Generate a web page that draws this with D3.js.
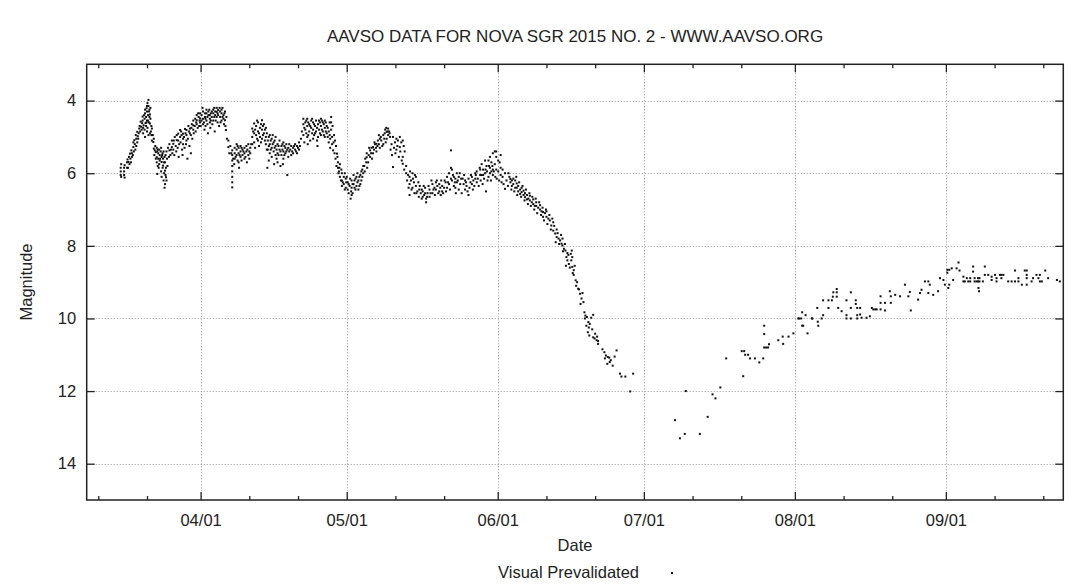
<!DOCTYPE html>
<html><head><meta charset="utf-8">
<script src="https://cdn.jsdelivr.net/npm/d3@7"></script>
<style>
body{margin:0;background:#fff}
svg{display:block}
text{font-family:"Liberation Sans",Arial,Helvetica,sans-serif;fill:#222}
</style>
</head><body>
<svg id="chart" width="1084" height="587"></svg>
<script>
const chartTitle = "AAVSO DATA FOR NOVA SGR 2015 NO. 2 - WWW.AAVSO.ORG";
const xTitle = "Date";
const yTitle = "Magnitude";
const seriesName = "Visual Prevalidated";
const magTicks = [4, 6, 8, 10, 12, 14];
const magDomain = [3, 15];
const monthTicks = ["2015-04-01","2015-05-01","2015-06-01","2015-07-01","2015-08-01","2015-09-01"];
const minorTicks = ["2015-03-11","2015-03-21","2015-04-11","2015-04-21","2015-05-11","2015-05-21","2015-06-11","2015-06-21",
  "2015-07-11","2015-07-21","2015-08-11","2015-08-21","2015-09-11","2015-09-21"];
const dayDomain = [7.62, 208.11]; // days since 2015-03-01 00:00 UT

// observations: [days since 2015-03-01 00:00 UT, visual magnitude]
const obsMar = [[14.6,6.05],[14.6,5.95],[14.6,5.85],[14.7,6.10],[14.7,5.75],[15.3,5.95],[15.3,5.85],[15.3,6.05],[15.4,5.78],[15.4,6.12],[15.9,5.70],[15.9,5.85],[16.0,5.62],
[16.2,5.69],[16.3,5.55],[16.5,5.46],[16.6,5.60],[16.8,5.37],[16.9,5.45],[17.2,5.28],[17.2,5.15],[17.4,5.09],[17.5,5.20],[17.7,4.95],[17.8,5.05],[18.0,4.86],[18.1,4.98],[18.4,4.77],[18.5,4.70],[18.7,4.58],[18.8,4.72],[19.0,4.62],[19.1,4.44],[19.1,4.55],[19.3,4.68],[19.4,4.40],[19.5,4.50],[19.6,4.35],[19.7,4.62],[19.8,4.45],[19.9,4.21],[20.0,4.30],[20.0,4.55],[20.1,4.07],[20.2,4.40],[20.3,3.98],[20.3,4.15],[20.4,4.30],[20.4,4.60],[20.5,4.45],[20.6,4.63],[20.6,4.38],[20.7,4.50],[20.8,4.85],[20.9,4.70],[21.0,4.77],
[21.2,4.95],[21.3,5.14],[21.4,5.32],[21.4,5.05],[21.6,5.37],[21.7,5.25],[21.8,5.42],[22.0,5.56],[22.0,5.30],[22.1,5.40],[22.1,6.02],[22.3,5.60],[22.3,5.45],[22.4,5.85],[22.6,5.65],[22.6,5.50],[22.8,5.40],[22.9,5.95],[23.0,5.69],[23.0,5.55],[23.2,5.45],[23.3,5.79],[23.3,5.60],[23.5,6.00],[23.6,5.55],[23.7,5.93],[23.7,5.70],[23.7,6.30],[23.9,6.11],[23.9,5.85],[24.0,5.40],[24.0,6.20],
[24.6,5.37],[24.6,5.20],[24.8,5.50],[25.1,5.28],[25.1,5.10],[25.4,5.19],[25.4,5.35],[25.7,5.00],[26.1,5.09],[26.1,4.95],[26.4,4.91],[26.4,5.10],[26.5,5.55],[26.8,4.81],[26.8,5.00],[27.1,4.95],[27.4,4.91],[27.4,5.05],[27.4,5.20],[27.8,4.78],[28.1,4.81],[28.1,4.95],[28.1,5.10],[28.3,5.60],[28.5,4.70],[28.8,4.77],[28.8,4.90],[29.2,4.65],[29.5,4.68],[29.5,4.80],[29.5,4.55],[29.9,4.50],[30.2,4.54],[30.2,4.65],[30.2,4.40],[30.6,4.45],[30.9,4.49],[30.9,4.60],[30.9,4.35],
[16.1,5.85],[16.4,5.75],[16.7,5.70],[16.9,5.55],[17.1,5.50],[17.3,5.40],[17.6,5.35],[17.8,5.25],[18.0,5.15],[18.2,5.05],[18.3,4.90],[18.6,4.85],[18.9,4.80],[19.2,4.75],[19.5,4.80],[19.8,4.70],[20.1,4.75],[20.2,4.55],[19.6,4.25],[19.9,4.60],[20.5,4.25],[20.0,4.15],
[19.2,4.90],[19.6,5.00],[20.0,4.85],[20.3,4.95],[20.6,4.90],[20.9,4.95],[21.0,5.10],[20.7,4.20],
[21.5,5.50],[21.8,5.60],[22.0,5.70],[22.2,5.35],[22.5,5.75],[22.5,5.35],[22.7,5.60],[22.9,5.30],[23.1,5.50],[23.2,5.85],[23.4,5.40],[23.5,5.70],[23.8,5.50],[23.8,6.05],[24.1,5.60],[24.2,5.80],[24.3,5.30],[22.2,5.80],[23.0,6.10],[23.6,6.40],[23.4,6.20],
[24.5,5.55],[24.9,5.35],[25.2,5.45],[25.5,5.10],[25.6,5.50],[25.9,5.25],[26.0,5.40],[26.3,5.30],[26.6,5.20],[26.9,5.15],[27.0,4.85],[27.2,5.35],[27.6,5.00],[27.7,5.30],[27.9,4.90],[28.0,5.20],[28.4,5.05],[28.6,4.85],[28.7,5.25],[29.0,4.95],[29.1,4.75],[29.3,5.05],[29.6,4.90],[29.8,4.70],[30.0,4.85],[30.1,4.60],[30.4,4.75],[30.5,4.35],[30.7,4.70],[30.8,4.55],[29.0,5.45],[27.3,5.50]];

const obsApr = [[31.2,4.40],[31.2,4.55],[31.5,4.30],[31.5,4.50],[31.5,4.65],[31.8,4.80],[31.9,4.35],[31.9,4.45],[32.2,4.35],[32.2,4.25],[32.2,4.55],[32.6,4.40],[32.6,4.30],[32.9,4.40],[32.9,4.50],[32.9,4.60],[33.0,4.75],[33.3,4.30],[33.3,4.45],[33.6,4.35],[33.6,4.25],[33.6,4.55],[34.0,4.40],[34.0,4.30],[34.3,4.31],[34.3,4.45],[34.3,4.20],[34.6,4.26],[34.6,4.40],[34.8,4.70],[35.0,4.30],[35.0,4.45],[35.3,4.35],[35.3,4.25],[35.3,4.55],[35.7,4.40],[35.7,4.50],[36.0,4.54],[36.0,4.30],[36.2,4.81],[36.4,5.05],[36.7,5.28],[36.7,5.10],
[37.3,5.45],[37.5,5.37],[37.5,5.50],[37.5,5.65],[37.5,5.80],[37.5,5.95],[37.5,6.10],[37.5,6.25],[37.5,6.39],[37.7,5.60],
[38.0,5.30],[38.0,5.45],[38.0,5.60],[38.4,5.20],[38.4,5.35],[38.4,5.50],[38.8,5.30],[38.8,5.45],[38.8,5.70],[39.2,5.25],[39.2,5.40],[39.2,5.55],[39.6,5.35],[39.6,5.50],[40.0,5.30],[40.0,5.45],[40.0,5.60],[40.4,5.25],[40.4,5.40],[40.8,5.20],[40.8,5.50],[41.2,5.45],[41.2,5.30],
[41.6,4.77],[41.6,5.00],[41.6,5.20],[42.0,4.63],[42.0,4.90],[42.0,5.15],[42.4,4.70],[42.4,4.95],[42.8,4.60],[42.8,4.85],[42.8,5.10],[43.2,4.75],[43.2,5.00],[43.6,4.54],[43.6,4.80],[43.6,5.05],[44.0,4.65],[44.0,4.90],[44.4,4.75],[44.4,5.00],[44.4,5.20],[44.7,5.85],
[44.8,5.10],[44.8,5.35],[45.2,4.95],[45.2,5.20],[45.2,5.45],[45.6,5.05],[45.6,5.30],[45.6,5.55],[46.0,5.15],[46.0,5.40],[46.4,5.00],[46.4,5.25],[46.4,5.50],[46.8,5.20],[46.8,5.45],[46.8,5.70],[47.2,5.10],[47.2,5.35],[47.4,5.80],[47.6,5.25],[47.6,5.50],[47.9,5.75],[48.0,5.15],[48.0,5.40],[48.0,5.60],[48.4,5.30],[48.4,5.45],[48.8,6.05],[48.8,5.35],
[49.2,5.20],[49.2,5.40],[49.6,5.25],[49.6,5.50],[50.0,5.30],[50.0,5.45],[50.4,5.20],[50.4,5.35],[50.8,5.25],[50.8,5.45],[51.2,5.15],[51.2,5.35],
[52.1,4.50],[52.1,4.65],[52.1,4.95],[52.5,4.60],[52.5,4.80],[52.9,4.50],[52.9,4.70],[52.9,5.00],[53.3,4.65],[53.3,4.85],[53.7,4.75],[53.7,4.55],[54.1,4.60],[54.1,4.80],[54.1,5.05],[54.5,4.70],[54.5,4.90],[54.9,4.75],[54.9,5.10],[55.3,4.55],[55.3,4.80],[55.7,4.50],[55.7,4.70],[55.7,4.95],[56.1,4.60],[56.1,4.85],[56.5,4.55],[56.5,4.75],[56.5,5.00],[56.9,4.70],[56.9,4.90],[57.3,4.85],[57.3,5.15],[57.6,5.05],[57.6,5.30],
[57.8,4.45],[57.8,4.60],[57.8,4.80],[58.0,5.00],[58.0,5.20],[58.2,5.37],[58.4,4.95],[58.6,5.10],[58.8,5.25],[59.0,5.46],[59.2,5.70],[59.2,5.85],[59.4,5.95],[59.6,6.10],[59.6,5.75],[60.0,6.00],[60.0,6.20],[60.0,6.35],[60.4,6.10],[60.4,6.30],[60.8,6.15],[60.8,6.40],
[31.0,4.70],[31.4,4.20],[31.7,4.60],[32.0,4.50],[32.0,4.70],[32.4,4.45],[32.4,4.65],[32.8,4.25],[33.1,4.55],[33.1,4.35],[33.4,4.65],[33.8,4.45],[33.8,4.20],[34.1,4.55],[34.5,4.35],[34.5,4.60],[34.9,4.20],[35.1,4.60],[35.5,4.45],[35.5,4.20],[35.8,4.65],[35.9,4.35],[36.1,4.70],[36.3,4.45],[33.9,4.85],[32.5,4.90],
[36.9,5.45],[37.1,5.25],[37.9,5.75],[38.2,5.55],[38.6,5.65],[38.6,5.25],[39.0,5.50],[39.4,5.30],[39.4,5.65],[39.8,5.40],[40.2,5.55],[40.6,5.35],[41.0,5.40],[41.0,5.60],[41.4,5.20],[38.9,5.85],[40.5,5.70],
[41.8,4.85],[42.2,4.80],[42.2,5.30],[42.6,5.05],[42.6,4.55],[43.0,4.90],[43.0,5.25],[43.4,4.65],[43.4,5.15],[43.8,4.70],[43.8,4.95],[44.2,4.80],[44.2,5.10],[44.6,4.90],[44.6,5.35],[45.0,5.00],[45.0,5.25],[45.4,5.10],[45.4,5.35],[45.8,5.20],[45.8,4.95],[46.2,5.30],[46.2,5.10],[46.6,5.35],[46.6,5.60],[47.0,5.25],[47.0,5.50],[47.4,5.40],[47.8,5.35],[47.8,5.20],[48.2,5.25],[48.2,5.50],[48.6,5.40],[48.6,5.20],[49.0,5.30],[49.0,5.55],[49.4,5.35],[49.8,5.40],[50.2,5.25],[50.6,5.40],[51.0,5.30],[51.4,5.25],[51.6,5.05],[51.8,4.85],[46.1,5.75],[45.0,5.65],
[52.3,4.75],[52.3,5.15],[52.7,4.55],[52.7,4.90],[53.1,4.60],[53.1,4.95],[53.5,4.70],[53.5,5.10],[53.9,4.50],[53.9,4.90],[54.3,4.65],[54.3,4.95],[54.7,4.55],[54.7,4.85],[55.1,4.65],[55.1,5.00],[55.5,4.60],[55.5,4.90],[55.9,4.55],[55.9,4.80],[56.3,4.65],[56.3,4.95],[56.7,4.60],[56.7,4.85],[57.1,4.75],[57.1,5.00],[57.5,4.95],[57.5,4.60],[55.0,5.25],[53.0,5.20],
[58.1,4.70],[58.3,5.15],[58.5,5.45],[58.7,5.60],[58.9,5.80],[59.1,5.55],[59.3,6.00],[59.5,5.85],[59.8,6.20],[59.9,5.90],[60.2,6.25],[60.6,6.00],[60.6,6.45],[60.9,6.25]];

const obsMay = [[61.2,6.25],[61.2,6.45],[61.6,6.35],[61.8,6.70],[62.0,6.20],[62.0,6.40],[62.4,6.05],[62.4,6.30],[62.8,6.15],[62.8,6.45],[63.2,6.00],[63.2,6.25],[63.6,6.10],[63.6,6.35],[64.0,5.95],[64.0,6.20],[64.4,6.00],[64.4,5.80],
[64.6,5.80],[64.8,5.60],[65.1,5.56],[65.1,5.45],[65.4,5.70],[65.8,5.37],[65.8,5.55],[66.1,5.30],[66.4,5.28],[66.4,5.45],[66.8,5.20],[67.1,5.19],[67.1,5.40],[67.4,5.10],[67.8,5.05],[67.8,5.30],[68.1,5.10],[68.5,4.95],[68.5,5.20],[68.8,4.90],[68.9,4.80],[69.2,4.86],[69.2,5.05],[69.5,4.77],[69.5,4.95],[69.7,4.85],[69.9,5.00],
[70.2,5.20],[70.5,5.00],[70.5,5.83],[70.9,5.15],[71.2,5.05],[71.2,5.35],[71.5,5.10],[71.9,5.00],[71.9,5.28],[72.2,5.15],[72.5,5.10],[72.5,5.55],[72.5,5.74],[72.9,5.40],
[73.2,5.80],[73.2,6.00],[73.6,6.05],[73.9,6.10],[73.9,6.30],[73.9,6.60],[74.2,6.20],[74.5,6.00],[74.5,6.40],[74.8,6.25],[75.2,6.10],[75.2,6.35],[75.5,6.50],[75.9,6.45],
[76.2,6.55],[76.6,6.50],[76.6,6.65],[76.9,6.60],[77.3,6.80],[77.3,6.70],[77.6,6.55],[78.0,6.45],[78.0,6.65],
[78.6,6.30],[78.6,6.55],[79.0,6.40],[79.3,6.25],[79.3,6.45],[79.6,6.35],[80.0,6.30],[80.0,6.50],[80.3,6.60],[80.6,6.35],[80.6,6.50],[81.0,6.40],[81.3,6.25],
[81.6,6.10],[81.6,6.40],[82.0,6.00],[82.0,6.30],[82.4,5.37],[82.4,5.85],[82.4,6.15],[82.6,5.90],[82.6,6.20],[83.0,6.10],[83.0,6.35],[83.3,6.15],[83.3,6.40],[83.6,6.00],[83.6,6.25],[84.0,6.10],[84.0,6.45],[84.3,6.30],
[84.8,6.15],[85.0,6.30],[85.3,6.20],[85.3,6.45],[85.6,6.35],[86.0,6.60],[86.0,6.15],[86.4,6.25],[86.7,6.30],[86.7,6.10],[87.0,6.20],[87.4,6.00],[87.4,6.15],[87.7,5.95],[87.7,6.25],
[88.3,5.85],[88.4,5.90],[88.4,6.05],[88.7,5.75],[88.7,6.05],[89.0,5.90],[89.0,6.05],[89.4,5.65],[89.4,6.00],[89.6,6.50],[89.7,5.80],[89.8,5.95],[90.1,5.65],[90.1,6.10],[90.4,5.55],[90.4,5.85],[90.4,6.00],[90.7,5.70],[90.7,5.95],[91.0,5.45],[91.0,5.90],[91.0,6.05],[91.4,5.40],[91.4,5.75],[91.7,5.55],[91.7,5.40],[91.7,5.90],
[61.0,6.10],[61.4,6.30],[61.4,6.55],[61.7,6.15],[61.9,6.50],[62.2,6.30],[62.2,6.55],[62.6,6.20],[62.6,6.40],[63.0,6.10],[63.0,6.35],[63.4,6.20],[63.4,6.45],[63.8,6.05],[63.8,6.30],[64.2,6.10],[64.2,5.90],[62.0,6.60],
[64.7,5.95],[65.0,5.70],[65.2,5.85],[65.5,5.50],[65.6,5.30],[66.0,5.45],[66.2,5.60],[66.6,5.35],[66.7,5.15],[67.0,5.30],[67.3,5.25],[67.6,5.20],[67.6,4.95],[68.0,5.00],[68.3,5.25],[68.7,5.05],[69.0,5.15],[69.4,4.85],[69.8,4.90],[69.1,4.75],
[70.0,5.35],[70.3,5.50],[70.7,5.30],[71.0,5.45],[71.4,5.25],[71.7,5.55],[72.0,5.40],[72.3,5.65],[72.7,5.25],[72.8,5.90],
[73.4,6.20],[73.7,6.40],[74.0,5.95],[74.3,6.45],[74.6,6.15],[74.9,6.55],[75.0,6.05],[75.3,6.55],[75.7,6.25],[75.8,6.65],[76.0,6.35],[76.4,6.45],[76.4,6.70],[76.8,6.35],[77.1,6.55],[77.1,6.40],[77.5,6.65],[77.8,6.35],[78.2,6.55],[78.4,6.20],[78.8,6.45],[79.1,6.60],[79.5,6.20],[79.8,6.55],[80.2,6.40],[80.4,6.20],[80.8,6.55],[81.1,6.20],[81.4,6.50],[81.8,6.25],[82.2,6.45],[82.8,6.05],[83.2,6.25],[83.4,6.55],[83.8,6.20],[84.2,6.00],[84.5,6.15],[84.6,6.55],[85.1,6.05],[85.5,6.25],[85.8,6.50],[86.2,6.40],[86.5,6.05],[86.9,6.45],[87.2,6.35],[87.5,6.05],[87.9,6.15],[88.1,6.35],[88.5,6.20],[88.9,6.30],[89.2,6.15],[89.5,5.90],[89.9,6.20],[90.2,5.80],[90.6,6.20],[90.9,5.80],[91.2,5.95],[91.5,6.10],[91.8,6.15]];

const obsJun = [[92.1,5.65],[92.1,5.95],[92.4,5.70],[92.6,5.50],[92.6,5.85],[92.6,6.05],[93.0,5.90],[93.0,6.10],[93.5,6.43],[93.5,6.00],
[94.4,6.10],[94.6,6.16],[94.6,6.25],[94.9,6.20],[94.9,6.35],[95.2,6.30],[95.2,6.15],[95.6,6.20],[95.6,6.40],[95.9,6.40],[95.9,6.28],[96.2,6.35],[96.2,6.50],[96.6,6.45],[96.6,6.57],[96.9,6.52],[96.9,6.40],[97.3,6.60],[97.3,6.48],[97.6,6.66],[97.6,6.55],[98.0,6.60],[98.0,6.72],[98.3,6.70],[98.6,6.75],[98.6,6.62],[99.0,6.80],[99.3,6.85],[99.3,6.72],[99.6,6.90],[99.9,6.90],[99.9,6.80],[100.3,6.95],[100.7,7.00],[100.7,6.88],[101.0,7.05],[101.3,7.07],[101.3,7.20],[101.7,7.10],[102.0,7.20],[102.0,7.05],
[102.4,7.25],[102.7,7.30],[103.0,7.44],[103.4,7.58],[103.4,7.35],[103.8,7.66],[104.1,7.76],[104.1,7.55],[104.5,7.80],[104.8,7.85],[105.1,7.94],[105.3,7.99],[105.3,7.80],
[105.6,8.08],[105.9,8.13],[106.1,8.31],[106.3,8.40],[106.3,8.20],[106.6,8.50],[107.0,8.22],[107.2,8.13],[107.3,8.31],[107.3,8.58],[107.6,8.67],[107.6,8.80],
[108.0,8.95],[108.3,9.00],[108.5,9.18],[108.9,9.32],[109.2,9.45],[109.6,9.55],
[109.8,9.83],[110.0,9.92],[110.3,9.96],[110.5,10.38],[110.6,10.10],[110.8,10.47],[110.9,10.15],[111.2,9.98],[111.6,9.90],[111.6,10.52],[112.0,10.42],[112.3,10.60],[112.6,10.70],[112.6,10.62],
[113.9,10.93],[114.2,11.02],[114.6,11.06],[114.9,11.08],[115.2,11.15],[115.6,11.30],[116.4,10.88],
[117.1,11.52],[117.4,11.60],[118.2,11.60],[119.2,12.01],[119.8,11.52],
[92.3,6.20],[92.8,6.25],[93.2,6.30],[93.8,6.20],[94.1,6.35],[94.2,6.00],[94.8,6.45],[95.4,6.50],[95.8,6.10],[96.0,6.60],[96.4,6.25],[96.8,6.65],[97.1,6.35],[97.5,6.75],[97.8,6.45],[98.2,6.85],[98.5,6.55],[98.8,6.90],[99.1,6.65],[99.5,7.00],[99.8,6.70],[100.1,7.10],[100.5,6.80],[100.9,7.15],[101.2,6.95],[101.5,7.30],[101.9,7.00],[102.2,7.40],[102.6,7.15],[102.9,7.55],[103.2,7.25],[103.6,7.45],[103.9,7.90],[104.3,7.65],[104.6,7.95],[105.0,7.70],[105.4,8.15],[105.8,7.95],[106.0,8.55],[106.5,8.25],[106.8,8.60],[107.1,8.40],[107.4,8.75],[107.8,8.55],[108.1,9.10],[108.7,9.20],[109.0,9.60],[109.4,9.30],[109.9,10.00],[110.2,10.20],[110.7,10.25],[111.4,10.30],[111.9,10.55],[112.4,10.50],[113.5,10.85],[114.0,11.10],[114.5,11.25],[115.0,11.20],[116.0,11.05]];

const obsJul = [[128.4,12.80],[129.4,13.30],[130.4,13.18],[130.6,12.00],[133.5,13.18],[135.1,12.71],[136.1,12.09],[136.7,12.20],[137.7,11.90],[138.9,11.10],[142.1,10.90],[142.4,11.59],[142.6,10.90],[142.8,11.00],[143.4,11.00],[143.8,11.10],[144.8,11.10],[145.7,11.21],[146.5,11.10],[146.7,10.80],[146.7,10.43],[146.7,10.20],[147.1,10.80],[147.5,10.80],[147.7,10.71],[149.6,10.60],[150.5,10.50],[150.6,10.70],[151.7,10.50],[152.7,10.41]];

const obsAug = [[153.7,10.00],[153.9,10.00],[154.3,10.00],[154.5,9.83],[154.5,10.20],[154.7,10.20],[155.2,9.91],[155.6,10.41],[156.5,10.00],[156.6,10.00],[157.6,9.71],[157.7,10.09],[157.8,10.20],[158.5,10.00],[158.8,9.91],[158.8,9.50],[159.9,9.50],[159.9,9.71],[160.6,9.50],[160.8,9.40],[160.9,9.28],[161.6,9.19],[161.6,9.28],[161.6,9.40],[161.9,9.71],[162.6,9.80],[163.6,9.50],[163.6,9.91],[163.6,10.00],[164.5,9.28],[164.5,9.71],[164.5,10.00],[165.5,9.50],[165.5,9.60],[165.8,9.71],[165.8,9.91],[165.8,10.00],[166.4,9.71],[166.4,9.89],[166.7,9.98],[167.7,9.98],[168.4,9.94],[168.8,9.71],[169.1,9.75],[169.5,9.75],[169.8,9.75],[170.6,9.39],[170.6,9.57],[170.6,9.75],[171.5,9.57],[171.5,9.78],[172.5,9.25],[172.7,9.39],[172.7,9.57],[173.6,9.35],[174.6,9.39],[175.6,9.07],[176.3,9.39],[176.6,9.27],[176.8,9.78],[178.3,9.48],[178.7,9.30],[179.0,9.21],[179.7,8.98],[180.4,8.98],[180.4,9.30],[180.7,9.07],[181.4,9.35],[182.4,9.25],[182.8,8.89],[183.5,8.94],[183.8,9.07]];

const obsSep = [[184.3,8.66],[184.3,8.74],[184.7,8.66],[184.5,9.16],[184.7,9.07],[185.2,8.62],[185.5,8.94],[186.2,8.62],[186.6,8.46],[186.8,8.68],[187.6,8.85],[187.6,8.98],[187.9,8.98],[188.3,8.89],[188.6,8.98],[189.0,8.89],[189.0,8.98],[189.6,8.57],[189.6,8.71],[189.9,8.89],[189.9,8.98],[190.3,8.98],[190.6,8.89],[190.6,8.98],[190.7,9.16],[190.8,9.25],[190.9,8.89],[190.9,8.98],[191.6,8.98],[192.0,8.57],[192.0,8.80],[192.7,8.80],[193.4,8.85],[193.4,8.94],[194.1,8.80],[194.4,8.89],[194.4,8.98],[195.1,8.80],[195.4,8.80],[195.4,8.89],[195.8,8.80],[196.8,8.98],[197.5,8.98],[198.2,8.98],[198.2,8.68],[198.9,8.89],[198.9,8.98],[199.6,9.07],[200.2,8.68],[200.6,8.68],[200.6,8.80],[200.6,8.89],[200.6,9.07],[201.6,8.98],[201.9,8.89],[202.6,8.80],[203.0,8.89],[203.3,8.80],[203.3,8.98],[203.7,8.98],[204.4,8.68],[205.0,8.89],[206.8,8.94],[207.4,8.98]];

const observations = [].concat(obsMar, obsApr, obsMay, obsJun, obsJul, obsAug, obsSep);

const base = Date.UTC(2015, 2, 1);
const toDate = d => new Date(base + d * 864e5);
const parse = d3.utcParse("%Y-%m-%d");

const plot = {left: 86.7, right: 1063.3, top: 64.3, bottom: 500};
const svg = d3.select("#chart");

const x = d3.scaleUtc().domain(dayDomain.map(toDate)).range([plot.left, plot.right]);
const y = d3.scaleLinear().domain(magDomain).range([plot.top, plot.bottom]);

const majorDates = monthTicks.map(parse);
const minorDates = minorTicks.map(parse);

const grid = svg.append("g").attr("stroke", "#9a9a9a").attr("stroke-width", 1).attr("stroke-dasharray", "1,2");
grid.selectAll(".gx").data(majorDates).join("line")
  .attr("x1", d => Math.round(x(d)) + 0.5).attr("x2", d => Math.round(x(d)) + 0.5)
  .attr("y1", plot.top).attr("y2", plot.bottom);
grid.selectAll(".gy").data(magTicks).join("line")
  .attr("y1", d => Math.round(y(d)) + 0.5).attr("y2", d => Math.round(y(d)) + 0.5)
  .attr("x1", plot.left).attr("x2", plot.right);

function styleAxis(g) {
  g.select(".domain").remove();
  g.selectAll(".tick line").attr("stroke", "#222").attr("stroke-width", 1.3);
  g.selectAll("text").attr("font-size", "16.5px").attr("fill", "#222")
    .attr("font-family", '"Liberation Sans", Arial, sans-serif');
}

svg.append("g").attr("transform", `translate(0,${plot.bottom})`)
  .call(d3.axisBottom(x).tickValues(majorDates).tickFormat(d3.utcFormat("%m/%d")).tickSize(-8).tickPadding(14))
  .call(styleAxis);
svg.append("g").attr("transform", `translate(0,${plot.bottom})`)
  .call(d3.axisBottom(x).tickValues(minorDates).tickFormat("").tickSize(-4))
  .call(styleAxis);
svg.append("g").attr("transform", `translate(0,${plot.top})`)
  .call(d3.axisTop(x).tickValues(majorDates).tickFormat("").tickSize(-8))
  .call(styleAxis);
svg.append("g").attr("transform", `translate(0,${plot.top})`)
  .call(d3.axisTop(x).tickValues(minorDates).tickFormat("").tickSize(-4))
  .call(styleAxis);
svg.append("g").attr("transform", `translate(${plot.left},0)`)
  .call(d3.axisLeft(y).tickValues(magTicks).tickFormat(d3.format("d")).tickSize(-8).tickPadding(10.5))
  .call(styleAxis);
svg.append("g").attr("transform", `translate(${plot.right},0)`)
  .call(d3.axisRight(y).tickValues(magTicks).tickFormat("").tickSize(-8))
  .call(styleAxis);

svg.append("rect").attr("x", plot.left).attr("y", plot.top)
  .attr("width", plot.right - plot.left).attr("height", plot.bottom - plot.top)
  .attr("fill", "none").attr("stroke", "#222").attr("stroke-width", 1.5);

svg.append("g").selectAll("rect").data(observations).join("rect")
  .attr("x", d => x(toDate(d[0])) - 1).attr("y", d => y(d[1]) - 1)
  .attr("width", 2).attr("height", 2).attr("fill", "#111");

svg.append("text").attr("x", 575).attr("y", 42).attr("text-anchor", "middle")
  .attr("font-size", "17px").text(chartTitle);
svg.append("text").attr("x", 575).attr("y", 551).attr("text-anchor", "middle")
  .attr("font-size", "16.5px").text(xTitle);
svg.append("text").attr("transform", "translate(32,282) rotate(-90)").attr("text-anchor", "middle")
  .attr("font-size", "16.5px").text(yTitle);

svg.append("text").attr("x", 639).attr("y", 578).attr("text-anchor", "end")
  .attr("font-size", "16.5px").text(seriesName);
svg.append("rect").attr("x", 671).attr("y", 572).attr("width", 2).attr("height", 2).attr("fill", "#111");
</script>
</body></html>
